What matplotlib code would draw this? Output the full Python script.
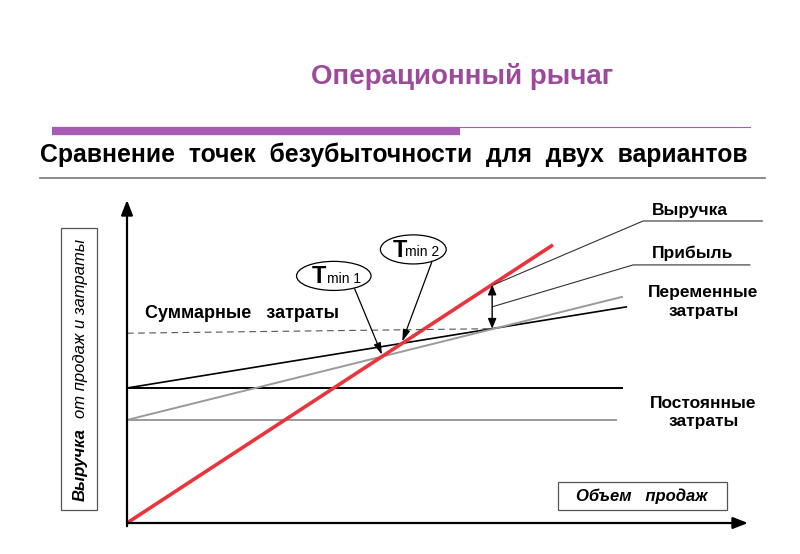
import matplotlib
matplotlib.use('Agg')
import matplotlib.pyplot as plt
from matplotlib.patches import Ellipse, Rectangle
import numpy as np

plt.rcParams['font.family'] = ['Liberation Sans', 'DejaVu Sans']

# Линии графика (объем продаж -> деньги)
volume_revenue = [0, 68.6]
revenue = [0, 86.1]

volume_fixed_1 = [0, 79.7]
fixed_cost_1 = [41.8, 41.8]
volume_fixed_2 = [0, 78.7]
fixed_cost_2 = [31.9, 31.9]

volume_total_1 = [0, 80.4]
total_cost_1 = [41.8, 66.9]
volume_total_2 = [0, 79.7]
total_cost_2 = [31.9, 70.0]

ref_volume = 58.8  # где показана прибыль (двойная стрелка)

label_revenue = 'Выручка'
label_profit = 'Прибыль'
label_variable = 'Переменные\nзатраты'
label_fixed = 'Постоянные\nзатраты'
label_total = 'Суммарные   затраты'

W, H = 800, 554


def fx(px):
    return px / W


def fy(py):
    return 1 - py / H


def line_cross(x1, y1, x2, y2):
    # пересечение двух прямых, заданных двумя точками
    k1 = (y1[1] - y1[0]) / (x1[1] - x1[0])
    k2 = (y2[1] - y2[0]) / (x2[1] - x2[0])
    b1 = y1[0] - k1 * x1[0]
    b2 = y2[0] - k2 * x2[0]
    x = (b2 - b1) / (k1 - k2)
    return x, k1 * x + b1


fig = plt.figure(figsize=(8, 5.54), dpi=100)

# заголовок слайда
fig.text(fx(462), fy(77), 'Операционный рычаг', ha='center', va='center',
         fontsize=20, fontweight='bold', color='#9E4A9C')
fig.add_artist(plt.Line2D([fx(52), fx(460)], [fy(130.5), fy(130.5)], color='#A65BB5', linewidth=6,
                          solid_capstyle='butt'))
fig.add_artist(plt.Line2D([fx(460), fx(750)], [fy(127.5), fy(127.5)], color='#A65BB5', linewidth=0.8))
fig.text(fx(394), fy(155), 'Сравнение  точек  безубыточности  для  двух  вариантов',
         ha='center', va='center', fontsize=17.8, fontweight='bold', color='black')
fig.add_artist(plt.Line2D([fx(40), fx(765)], [fy(178), fy(178)], color='#777777', linewidth=1.2))

# область графика: единица по x = 6.21 px, по y = 3.23 px, начало в (127, 523)
ax = fig.add_axes([0, 0, 1, 1])
ax.set_xlim(-127 / 6.21, (W - 127) / 6.21)
ax.set_ylim((523 - H) / 3.23, 523 / 3.23)
ax.axis('off')

# оси со стрелками
ax.annotate('', xy=(0, 100), xytext=(0, -1), arrowprops=dict(arrowstyle='-|>,head_length=0.9,head_width=0.35',
                                                            color='black', lw=1.6, shrinkA=0, shrinkB=0))
ax.annotate('', xy=(100, 0), xytext=(0, 0), arrowprops=dict(arrowstyle='-|>,head_length=0.9,head_width=0.35',
                                                           color='black', lw=1.6, shrinkA=0, shrinkB=0))

ax.plot(volume_fixed_1, fixed_cost_1, color='black', lw=1.4)
ax.plot(volume_fixed_2, fixed_cost_2, color='#9a9a9a', lw=1.4)
ax.plot(volume_total_1, total_cost_1, color='black', lw=1.2)
ax.plot(volume_total_2, total_cost_2, color='#9a9a9a', lw=1.4)
ax.plot(volume_revenue, revenue, color='#E8343C', lw=2.6, solid_capstyle='butt')

tc_ref = np.interp(ref_volume, volume_total_1, total_cost_1)
rev_ref = np.interp(ref_volume, volume_revenue, revenue)
ax.plot([0, ref_volume], [tc_ref - 1.4, tc_ref], color='#555555', lw=0.8, dashes=(6, 4))
ax.annotate('', xy=(ref_volume, rev_ref), xytext=(ref_volume, tc_ref),
            arrowprops=dict(arrowstyle='<|-|>,head_length=0.6,head_width=0.25', color='black', lw=1,
                            shrinkA=0, shrinkB=0))

# точки безубыточности
bx1, by1 = line_cross(volume_revenue, revenue, volume_total_2, total_cost_2)
bx2, by2 = line_cross(volume_revenue, revenue, volume_total_1, total_cost_1)

for (cx, cy, w, n, tx, ty) in [(33.3, 76.5, 12.0, '1', bx1, by1), (46.1, 84.7, 10.6, '2', bx2, by2)]:
    ax.add_patch(Ellipse((cx, cy), w, 9.0, facecolor='white', edgecolor='black', lw=0.9, zorder=4))
    ax.text(cx - w * 0.2, cy - 0.2, 'T', ha='center', va='center', fontsize=17, fontweight='bold', zorder=5)
    ax.text(cx + w * 0.14, cy - 0.9, 'min ' + n, ha='center', va='center', fontsize=10, zorder=5)
    ax.annotate('', xy=(tx, ty + 0.6), xytext=(cx + w * 0.28, cy - 4.0),
                arrowprops=dict(arrowstyle='-|>,head_length=0.7,head_width=0.22', color='black', lw=0.9,
                                shrinkA=0, shrinkB=0))

# подписи линий
ax.text(2.9, 64.8, label_total, ha='left', va='center', fontsize=13, fontweight='bold')
ax.text(84.5, 96.6, label_revenue, ha='left', va='center', fontsize=12.5, fontweight='bold')
ax.text(84.5, 83.6, label_profit, ha='left', va='center', fontsize=12.5, fontweight='bold')
ax.text(92.8, 68.4, label_variable, ha='center', va='center', fontsize=12.5, fontweight='bold', linespacing=1.3)
ax.text(92.8, 34.2, label_fixed, ha='center', va='center', fontsize=12.5, fontweight='bold', linespacing=1.3)

# выноски к выручке и прибыли
ax.plot([ref_volume + 0.3, 83.1, 102.3], [rev_ref, 93.5, 93.5], color='#333333', lw=0.8)
ax.plot([ref_volume + 0.1, 81.5, 100.3], [(rev_ref + tc_ref) / 2, 79.9, 79.9], color='#333333', lw=0.8)

# подписи осей в рамках
fig.add_artist(Rectangle((fx(61), fy(510)), fx(97) - fx(61), fy(228) - fy(510), transform=fig.transFigure,
                         facecolor='none', edgecolor='#555555', lw=0.9))
fig.text(fx(80), fy(501), 'Выручка', rotation=90, ha='center', va='bottom', fontsize=12,
         fontstyle='italic', fontweight='bold')
fig.text(fx(80), fy(418), 'от продаж и затраты', rotation=90, ha='center', va='bottom', fontsize=12,
         fontstyle='italic')

fig.add_artist(Rectangle((fx(558), fy(510)), fx(727) - fx(558), fy(482) - fy(510), transform=fig.transFigure,
                         facecolor='none', edgecolor='#555555', lw=0.9))
fig.text(fx(642), fy(496), 'Объем   продаж', ha='center', va='center', fontsize=12,
         fontstyle='italic', fontweight='bold')

fig.savefig('out.png', dpi=100)
